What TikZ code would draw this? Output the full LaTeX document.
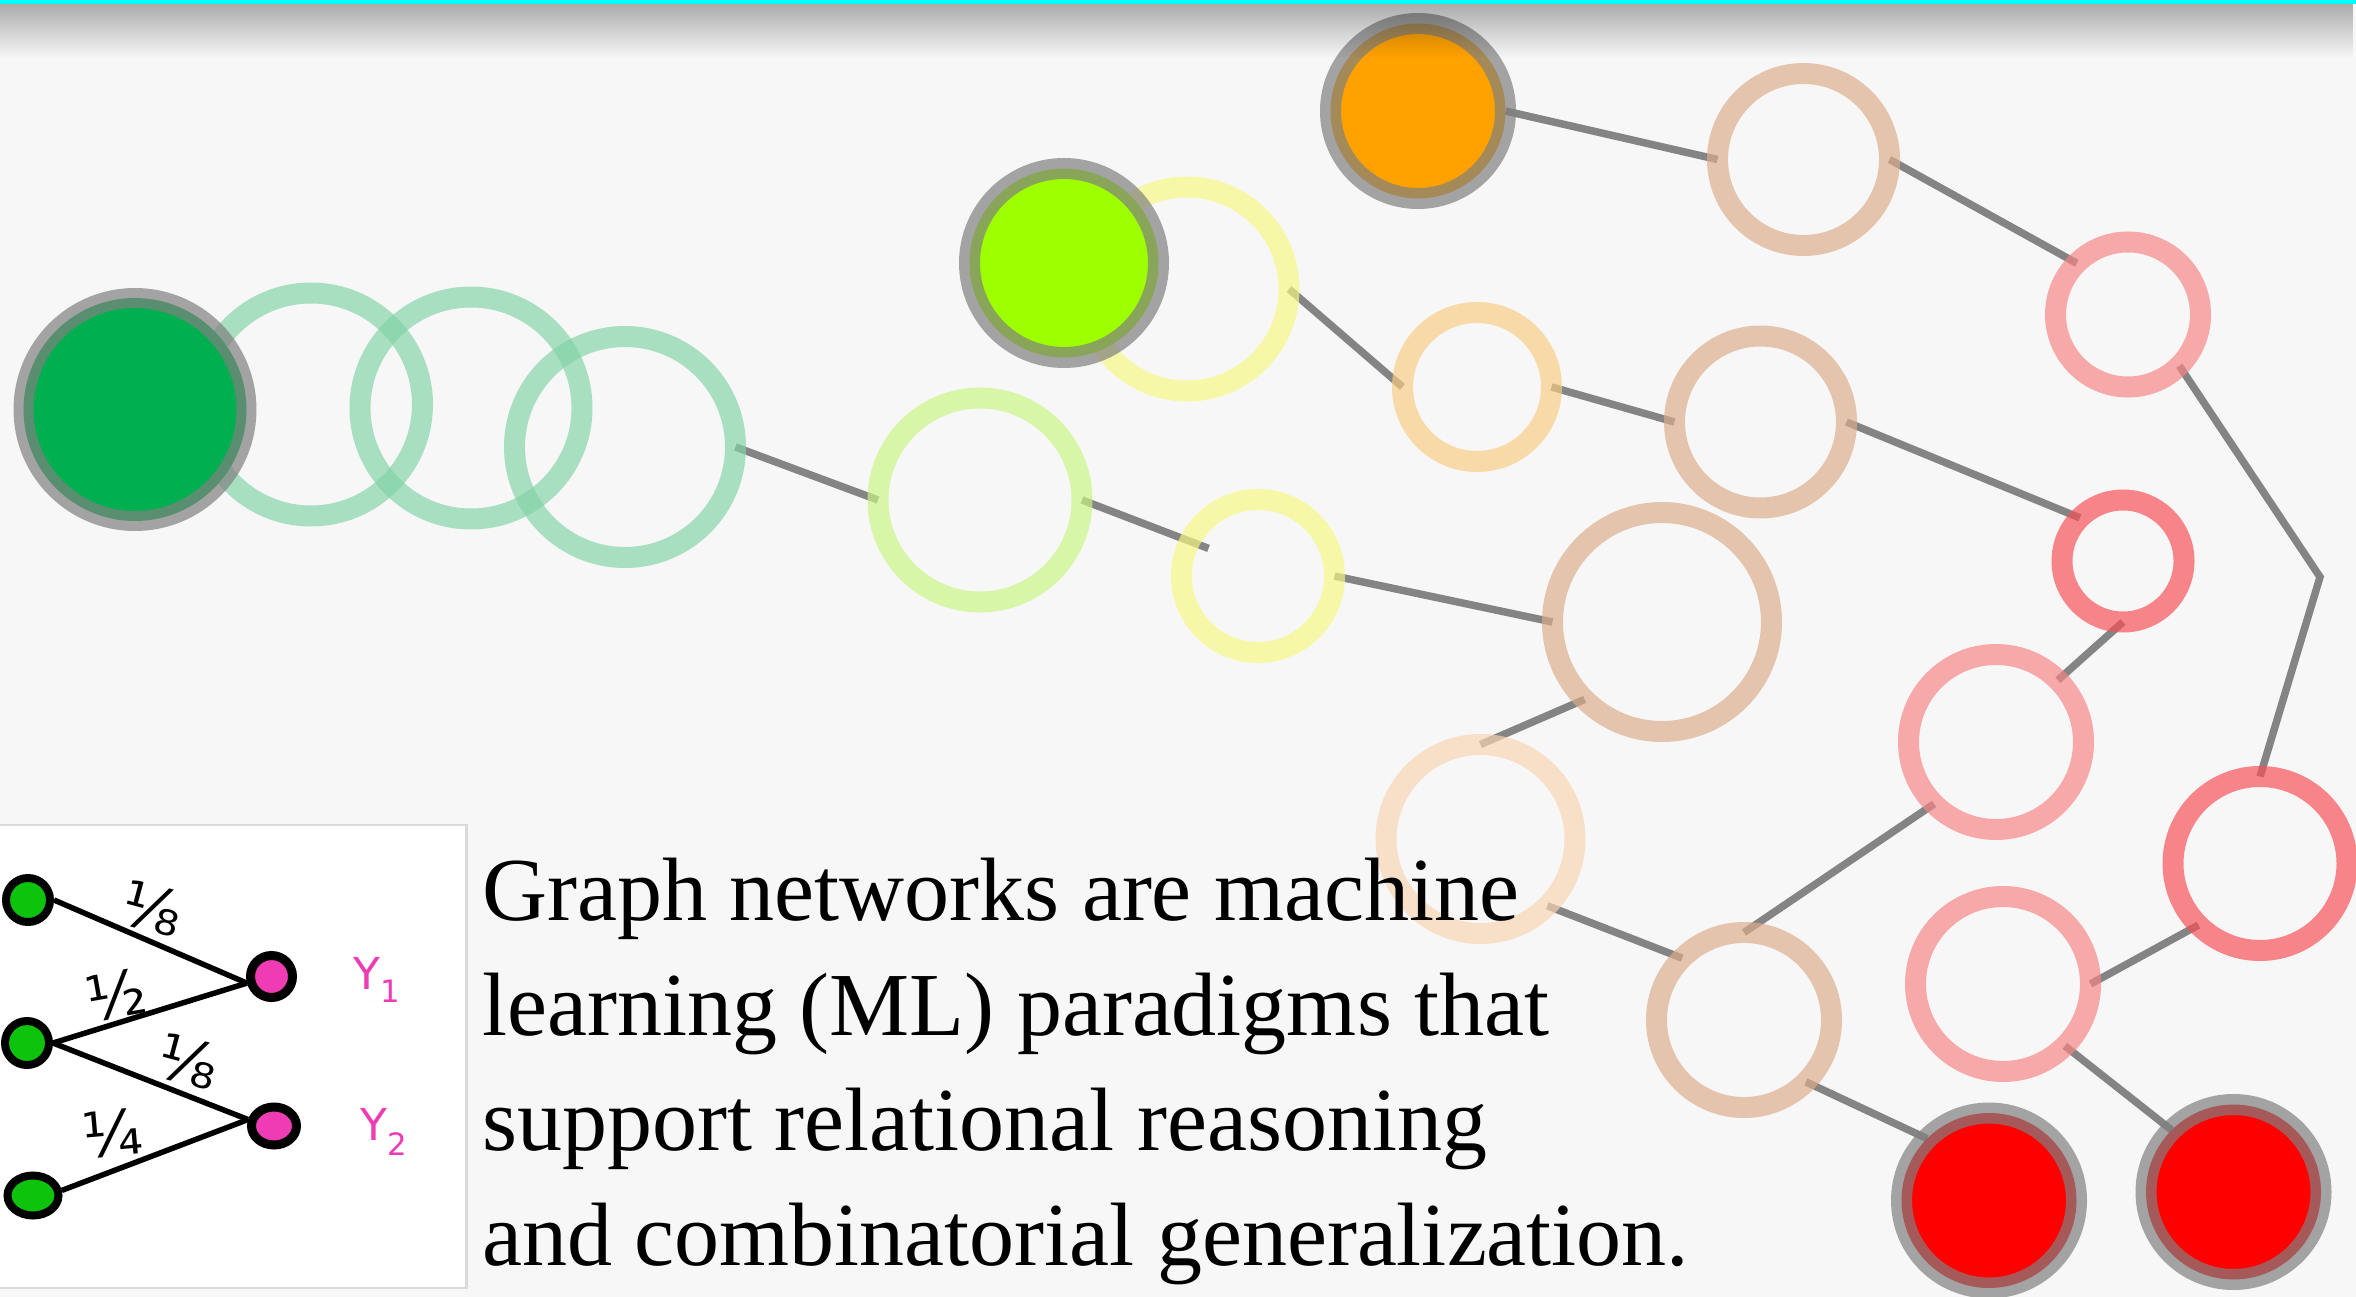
\documentclass[tikz,border=0pt]{standalone}
\usepackage{fontspec}
\newfontfamily\bodyfont{Liberation Serif}
\newfontfamily\handfont{DejaVu Sans}
\usetikzlibrary{fadings,shapes.geometric}
\pgfdeclarelayer{back}\pgfdeclarelayer{edges}\pgfdeclarelayer{over}
\pgfsetlayers{back,edges,main,over}
\definecolor{bgc}{RGB}{247,247,247}
\definecolor{greenR}{RGB}{131,212,166}
\definecolor{limeR}{RGB}{201,246,131}
\definecolor{yellowR}{RGB}{248,248,131}
\definecolor{orangeR}{RGB}{248,205,131}
\definecolor{peachR}{RGB}{221,172,140}
\definecolor{lpeachR}{RGB}{248,213,178}
\definecolor{pinkR}{RGB}{248,131,131}
\definecolor{redR}{RGB}{248,78,84}
\definecolor{hubgray}{RGB}{128,128,128}
\definecolor{edgegray}{RGB}{132,132,132}
\definecolor{g0c}{RGB}{0,176,80}
\definecolor{limec}{RGB}{158,255,0}
\definecolor{orangec}{RGB}{255,162,0}
\definecolor{redc}{RGB}{255,0,0}
\definecolor{handgreen}{RGB}{12,196,12}
\definecolor{handpink}{RGB}{240,60,180}
\definecolor{boxgray}{RGB}{218,218,218}
\definecolor{cyanbar}{RGB}{0,255,255}
\tikzfading[name=topfade, top color=transparent!0, middle color=transparent!25, bottom color=transparent!100]
\tikzset{
  ring/.style={circle, draw=#1, draw opacity=0.68, line width=21pt, inner sep=0pt, outer sep=0pt},
  hub/.style={circle, fill=#1, draw=hubgray, draw opacity=0.7, line width=21pt, inner sep=0pt, outer sep=0pt},
  edge/.style={draw=edgegray, line width=7.5pt},
  txt/.style={anchor=base west, inner sep=0pt, font=\bodyfont\fontsize{90pt}{115pt}\selectfont},
  gdot/.style={circle, fill=handgreen, draw=black, line width=8pt, minimum size=44pt, inner sep=0pt},
  pdot/.style={circle, fill=handpink, draw=black, line width=9pt, minimum size=42pt, inner sep=0pt},
  hline/.style={draw=black, line width=5.5pt},
  frac/.style={inner sep=0pt, font=\handfont\fontsize{62pt}{62pt}\selectfont},
  ylab/.style={inner sep=0pt, text=handpink, font=\handfont\fontsize{44pt}{44pt}\selectfont},
}
\begin{document}
\begin{tikzpicture}[x=1pt,y=-1pt]
\useasboundingbox (0,0) rectangle (2356,1297);
\begin{pgfonlayer}{back}
\fill[bgc] (0,0) rectangle (2356,1297);
\end{pgfonlayer}

% left chain
\node[ring=greenR, minimum size=223pt] (r1) at (311,404.5) {};
\node[ring=greenR, minimum size=222pt] (r2) at (471,408) {};
\node[ring=greenR, minimum size=221pt] (r3) at (625,447) {};
\node[hub=g0c, line width=20pt, minimum size=223pt] (g0) at (135,409.5) {};
\node[ring=limeR, minimum size=204pt] (lr) at (980,500) {};
\node[ring=yellowR, minimum size=153pt] (sy) at (1258,576) {};
\node[ring=yellowR, minimum size=204pt] (yb) at (1187,289) {};
\node[hub=limec, minimum size=189pt] (lh) at (1064,263) {};
\node[hub=orangec, minimum size=175pt] (oh) at (1418,111) {};
\node[ring=orangeR, minimum size=149pt] (lo) at (1477,387) {};
\node[ring=peachR, minimum size=172pt] (tp) at (1803.5,159.5) {};
\node[ring=peachR, minimum size=172pt] (pm) at (1760.5,422) {};
\node[ring=peachR, minimum size=219pt] (bp) at (1662,622) {};
\node[ring=lpeachR, minimum size=189pt] (lp) at (1480.5,839) {};
\node[ring=peachR, minimum size=175pt] (lw) at (1744,1020) {};
\node[ring=pinkR, minimum size=145pt] (ptr) at (2128,314.5) {};
\node[ring=redR, minimum size=122pt] (rs) at (2123,561) {};
\node[ring=pinkR, minimum size=175pt] (pa) at (1996,742) {};
\node[ring=redR, minimum size=174pt] (rr) at (2260,863.5) {};
\node[ring=pinkR, minimum size=175pt] (pb) at (2003,984) {};
\node[hub=redc, minimum size=175pt] (h1) at (1989,1200.5) {};
\node[hub=redc, minimum size=175pt] (h2) at (2233.5,1192) {};
\coordinate (bend) at (2320,577);

\begin{pgfonlayer}{edges}
\draw[edge] (r3.east) -- (lr.west);
\draw[edge, shorten >=-20pt] (lr.east) -- (sy.153);
\draw[edge] (sy.east) -- (bp.west);
\draw[edge] (yb.east) -- (lo.west);
\draw[edge] (lo.east) -- (pm.west);
\draw[edge] (pm.east) -- (rs.135);
\draw[edge] (oh.east) -- (tp.west);
\draw[edge] (tp.east) -- (ptr.135);
\draw[edge] (ptr.-45) -- (bend) -- (rr.north);
\draw[edge] (rs.south) -- (pa.45);
\draw[edge] (lw.north) -- (pa.-135);
\draw[edge] (bp.-135) -- (lp.north);
\draw[edge] (lp.-45) -- (lw.135);
\draw[edge] (lw.-45) -- (h1.135);
\draw[edge] (pb.east) -- (rr.-135);
\draw[edge] (pb.-45) -- (h2.135);
\end{pgfonlayer}

% caption text
\node[txt] (t1) at (482,920) {Graph networks are machine};
\node[txt] (t2) at (482,1035) {learning (ML) paradigms that};
\node[txt] (t3) at (482,1150) {support relational reasoning};
\node[txt] (t4) at (482,1265) {and combinatorial generalization.};

% inset
\draw[fill=white, draw=boxgray, line width=2.5pt] (-10,825) rectangle (466.5,1288);
\node[gdot] (d1) at (28,900) {};
\node[gdot] (d2) at (27,1043) {};
\node[gdot, ellipse, minimum width=51pt, minimum height=40pt] (d3) at (33,1195.5) {};
\node[pdot] (p1) at (271.5,976.5) {};
\node[pdot, ellipse, minimum width=45pt, minimum height=38pt] (p2) at (274,1126) {};
\draw[hline] (d1.east) -- (p1.195);
\draw[hline] (d2.east) -- (p1.195);
\draw[hline] (d2.east) -- (p2.166);
\draw[hline] (d3.10) -- (p2.166);
\node[frac, rotate=-15] (f1) at (152,908) {⅛};
\node[frac, rotate=10] (f2) at (116,995) {½};
\node[frac, rotate=-15] (f3) at (188,1061) {⅛};
\node[frac, rotate=5] (f4) at (112,1133) {¼};
\node[ylab] (y1) at (377,980) {Y\textsubscript{1}};
\node[ylab] (y2) at (384,1132) {Y\textsubscript{2}};

\begin{pgfonlayer}{over}
\fill[black, fill opacity=0.3, path fading=topfade] (0,4.5) rectangle (2356,58);
\fill[cyanbar] (0,0) rectangle (2356,4.5);
\end{pgfonlayer}
\end{tikzpicture}
\end{document}
